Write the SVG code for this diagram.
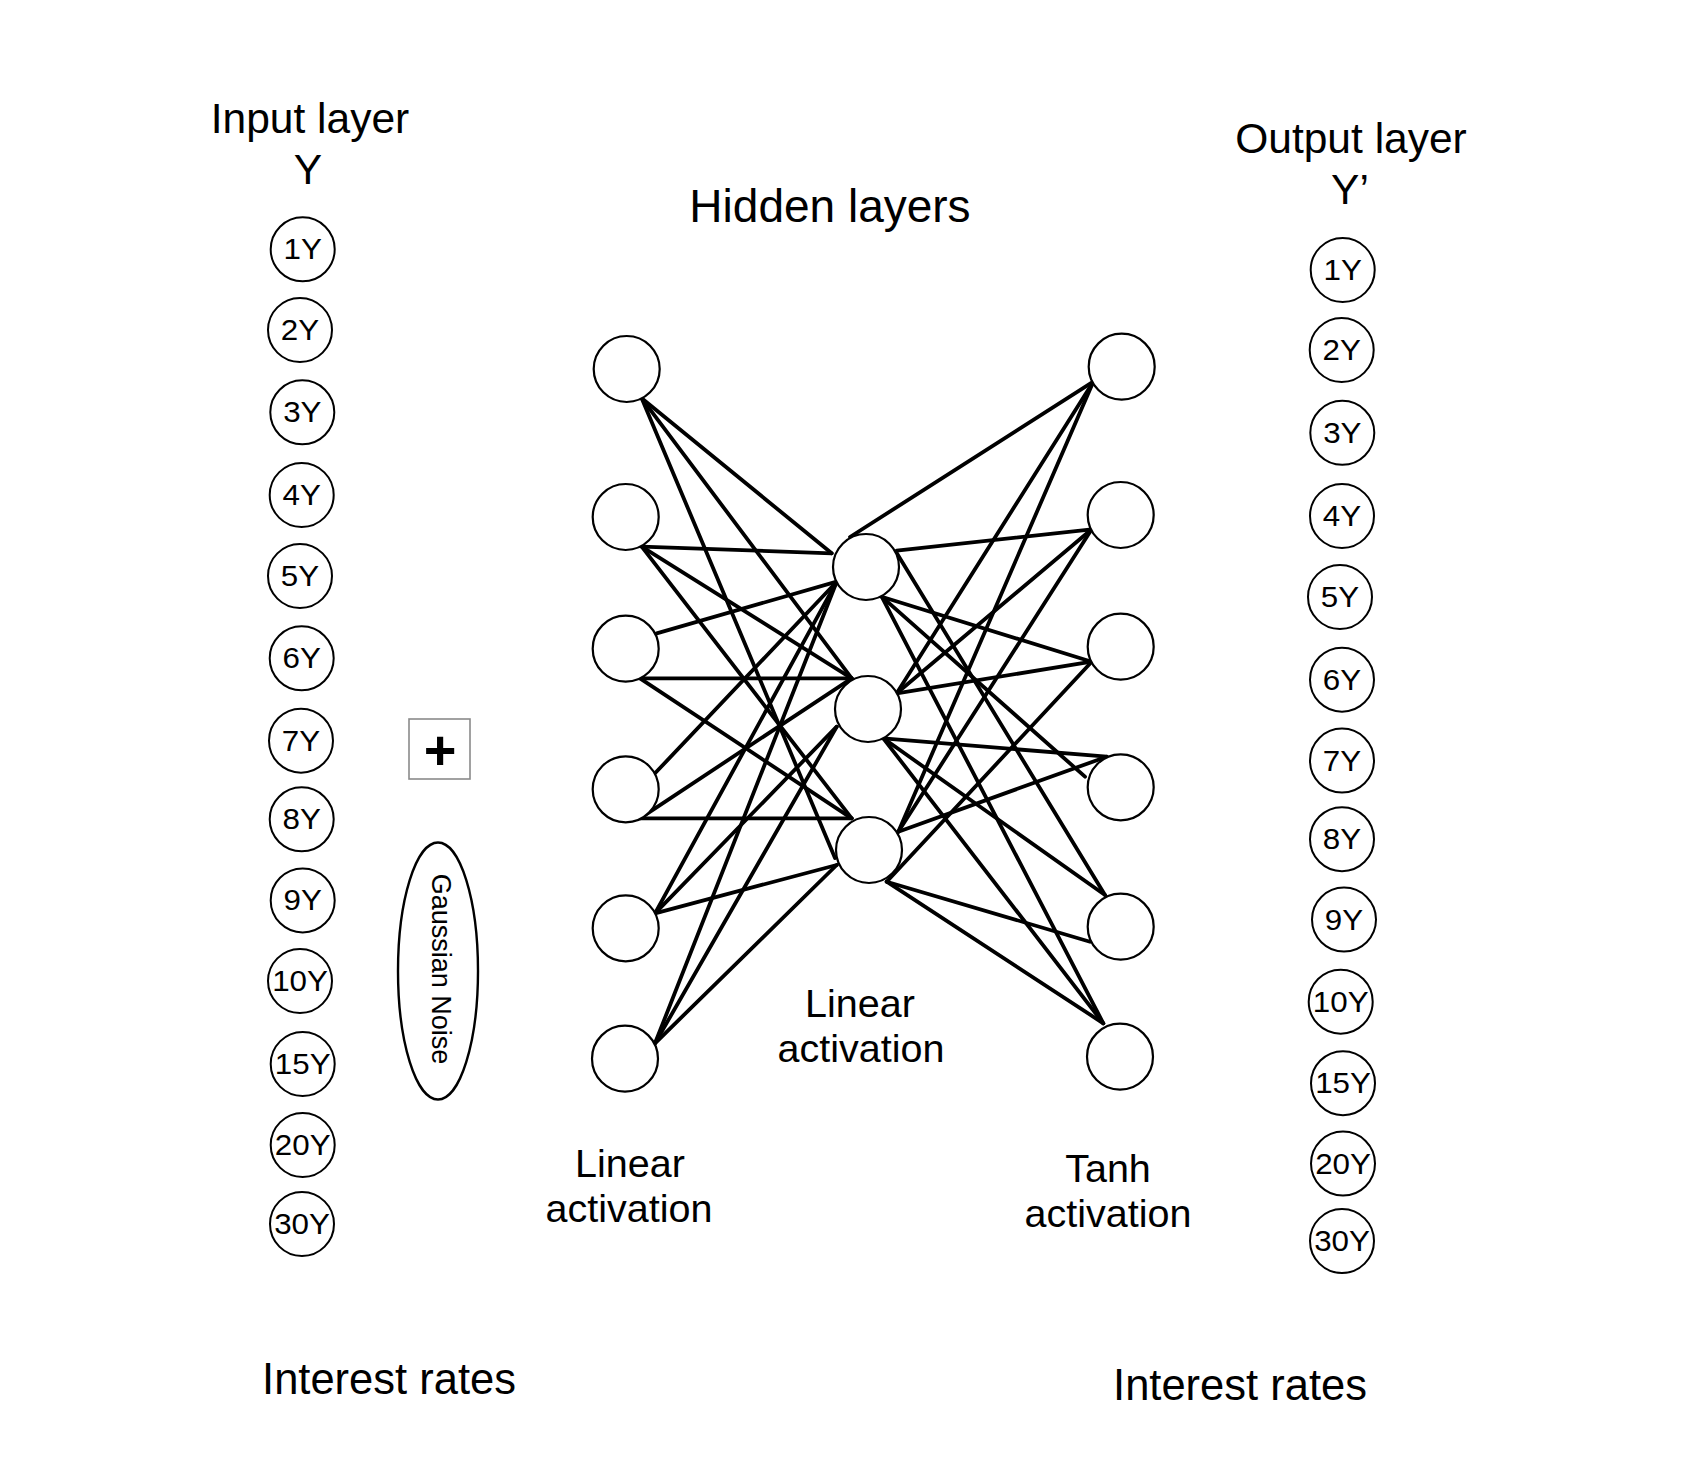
<svg xmlns="http://www.w3.org/2000/svg" width="1698" height="1480" viewBox="0 0 1698 1480">
<style>
text{font-family:"Liberation Sans",Arial,Helvetica,sans-serif;fill:#000}
.io circle{fill:#fff;stroke:#000;stroke-width:2}
.io text{font-size:29px;text-anchor:middle}
.hid circle{fill:#fff;stroke:#000;stroke-width:2.2}
.title{font-size:42.5px;text-anchor:middle}
.act{font-size:39.5px;text-anchor:middle}
#edges line{stroke:#000;stroke-width:3.8;stroke-linecap:round}
</style>
<rect width="1698" height="1480" fill="#fff"/>

<g id="labels">
<text class="title" x="310" y="133">Input layer</text>
<text class="title" x="308" y="184">Y</text>
<text class="title" x="1351" y="153">Output layer</text>
<text class="title" x="1350" y="204">Y’</text>
<text class="title" x="830" y="222" style="font-size:46px">Hidden layers</text>
<text class="act" x="630" y="1177">Linear</text>
<text class="act" x="629" y="1222">activation</text>
<text class="act" x="860" y="1017">Linear</text>
<text class="act" x="861" y="1062">activation</text>
<text class="act" x="1108" y="1182">Tanh</text>
<text class="act" x="1108" y="1227">activation</text>
<text class="title" x="389" y="1394" style="font-size:43.5px">Interest rates</text>
<text class="title" x="1240" y="1400" style="font-size:43.5px">Interest rates</text>
</g>

<g id="edges">
<line x1="641.7" y1="398.3" x2="831.7" y2="553.3"/>
<line x1="641.7" y1="398.3" x2="851.7" y2="678.3"/>
<line x1="641.7" y1="398.3" x2="835" y2="858"/>
<line x1="641.7" y1="546.7" x2="831.7" y2="553.3"/>
<line x1="641.7" y1="546.7" x2="851.7" y2="678.3"/>
<line x1="641.7" y1="546.7" x2="851.7" y2="818.3"/>
<line x1="656.7" y1="633.3" x2="836.7" y2="581.7"/>
<line x1="640" y1="678.3" x2="851.7" y2="678.3"/>
<line x1="640" y1="678.3" x2="851.7" y2="818.3"/>
<line x1="655" y1="773.3" x2="836.7" y2="581.7"/>
<line x1="640" y1="818.3" x2="851.7" y2="678.3"/>
<line x1="640" y1="818.3" x2="851.7" y2="818.3"/>
<line x1="655" y1="913.3" x2="836.7" y2="581.7"/>
<line x1="655" y1="913.3" x2="836.7" y2="726.7"/>
<line x1="655" y1="913.3" x2="836.7" y2="865"/>
<line x1="655" y1="1043.3" x2="836.7" y2="581.7"/>
<line x1="655" y1="1043.3" x2="836.7" y2="726.7"/>
<line x1="655" y1="1043.3" x2="836.7" y2="865"/>

<line x1="850" y1="537" x2="1093.3" y2="381.7"/>
<line x1="896.7" y1="550.7" x2="1091.7" y2="529.3"/>
<line x1="881.7" y1="596.7" x2="1091.7" y2="661.7"/>
<line x1="881.7" y1="596.7" x2="1085" y2="776.7"/>
<line x1="896.7" y1="553" x2="1105" y2="895"/>
<line x1="881.7" y1="596.7" x2="1103.3" y2="1023.3"/>
<line x1="896.7" y1="693.3" x2="1093.3" y2="381.7"/>
<line x1="896.7" y1="693.3" x2="1091.7" y2="529.3"/>
<line x1="896.7" y1="693.3" x2="1091.7" y2="661.7"/>
<line x1="883.3" y1="738.3" x2="1106.7" y2="756.7"/>
<line x1="883.3" y1="738.3" x2="1105" y2="895"/>
<line x1="883.3" y1="738.3" x2="1103.3" y2="1023.3"/>
<line x1="898.3" y1="831.7" x2="1093.3" y2="381.7"/>
<line x1="898.3" y1="831.7" x2="1091.7" y2="529.3"/>
<line x1="886.7" y1="881.7" x2="1091.7" y2="661.7"/>
<line x1="898.3" y1="831.7" x2="1106.7" y2="756.7"/>
<line x1="886.7" y1="881.7" x2="1090" y2="941.7"/>
<line x1="886.7" y1="881.7" x2="1103.3" y2="1023.3"/>
</g>

<g id="hidden-layer-1" class="hid">
<g id="h1-1"><circle cx="626.7" cy="369" r="33"/></g>
<g id="h1-2"><circle cx="625.7" cy="517" r="33"/></g>
<g id="h1-3"><circle cx="625.7" cy="648.7" r="33"/></g>
<g id="h1-4"><circle cx="625.7" cy="789.3" r="33"/></g>
<g id="h1-5"><circle cx="625.7" cy="928.3" r="33"/></g>
<g id="h1-6"><circle cx="625" cy="1058.7" r="33"/></g>
</g>
<g id="hidden-layer-2" class="hid">
<g id="h2-1"><circle cx="866" cy="567" r="33"/></g>
<g id="h2-2"><circle cx="868" cy="709" r="33"/></g>
<g id="h2-3"><circle cx="869" cy="850" r="33"/></g>
</g>
<g id="hidden-layer-3" class="hid">
<g id="h3-1"><circle cx="1121.7" cy="366.7" r="33"/></g>
<g id="h3-2"><circle cx="1120.7" cy="515" r="33"/></g>
<g id="h3-3"><circle cx="1120.7" cy="646.7" r="33"/></g>
<g id="h3-4"><circle cx="1120.7" cy="787.3" r="33"/></g>
<g id="h3-5"><circle cx="1120.7" cy="926.7" r="33"/></g>
<g id="h3-6"><circle cx="1120" cy="1056.7" r="33"/></g>
</g>

<g id="input-layer" class="io">
<g id="in-1Y"><circle cx="302.7" cy="249.3" r="32"/><text transform="translate(302.7,259.3) scale(1.08,1)">1Y</text></g>
<g id="in-2Y"><circle cx="300" cy="330" r="32"/><text transform="translate(300,340) scale(1.08,1)">2Y</text></g>
<g id="in-3Y"><circle cx="302.3" cy="412.3" r="32"/><text transform="translate(302.3,422.3) scale(1.08,1)">3Y</text></g>
<g id="in-4Y"><circle cx="301.7" cy="495" r="32"/><text transform="translate(301.7,505) scale(1.08,1)">4Y</text></g>
<g id="in-5Y"><circle cx="300" cy="576" r="32"/><text transform="translate(300,586) scale(1.08,1)">5Y</text></g>
<g id="in-6Y"><circle cx="301.7" cy="658.3" r="32"/><text transform="translate(301.7,668.3) scale(1.08,1)">6Y</text></g>
<g id="in-7Y"><circle cx="301" cy="740.7" r="32"/><text transform="translate(301,750.7) scale(1.08,1)">7Y</text></g>
<g id="in-8Y"><circle cx="301.7" cy="819.3" r="32"/><text transform="translate(301.7,829.3) scale(1.08,1)">8Y</text></g>
<g id="in-9Y"><circle cx="302.7" cy="900.4" r="32"/><text transform="translate(302.7,910.4) scale(1.08,1)">9Y</text></g>
<g id="in-10Y"><circle cx="300" cy="981" r="32"/><text transform="translate(300,991) scale(1.08,1)">10Y</text></g>
<g id="in-15Y"><circle cx="302.7" cy="1064" r="32"/><text transform="translate(302.7,1074) scale(1.08,1)">15Y</text></g>
<g id="in-20Y"><circle cx="302.7" cy="1145" r="32"/><text transform="translate(302.7,1155) scale(1.08,1)">20Y</text></g>
<g id="in-30Y"><circle cx="302" cy="1224" r="32"/><text transform="translate(302,1234) scale(1.08,1)">30Y</text></g>
</g>

<g id="output-layer" class="io">
<g id="out-1Y"><circle cx="1342.7" cy="270" r="32"/><text transform="translate(1342.7,280) scale(1.08,1)">1Y</text></g>
<g id="out-2Y"><circle cx="1341.7" cy="350" r="32"/><text transform="translate(1341.7,360) scale(1.08,1)">2Y</text></g>
<g id="out-3Y"><circle cx="1342.3" cy="432.8" r="32"/><text transform="translate(1342.3,442.8) scale(1.08,1)">3Y</text></g>
<g id="out-4Y"><circle cx="1342" cy="516" r="32"/><text transform="translate(1342,526) scale(1.08,1)">4Y</text></g>
<g id="out-5Y"><circle cx="1340" cy="597" r="32"/><text transform="translate(1340,607) scale(1.08,1)">5Y</text></g>
<g id="out-6Y"><circle cx="1342" cy="679.7" r="32"/><text transform="translate(1342,689.7) scale(1.08,1)">6Y</text></g>
<g id="out-7Y"><circle cx="1342" cy="760.6" r="32"/><text transform="translate(1342,770.6) scale(1.08,1)">7Y</text></g>
<g id="out-8Y"><circle cx="1342" cy="839.2" r="32"/><text transform="translate(1342,849.2) scale(1.08,1)">8Y</text></g>
<g id="out-9Y"><circle cx="1344" cy="919.6" r="32"/><text transform="translate(1344,929.6) scale(1.08,1)">9Y</text></g>
<g id="out-10Y"><circle cx="1340.7" cy="1001.7" r="32"/><text transform="translate(1340.7,1011.7) scale(1.08,1)">10Y</text></g>
<g id="out-15Y"><circle cx="1343" cy="1083.2" r="32"/><text transform="translate(1343,1093.2) scale(1.08,1)">15Y</text></g>
<g id="out-20Y"><circle cx="1343" cy="1163.6" r="32"/><text transform="translate(1343,1173.6) scale(1.08,1)">20Y</text></g>
<g id="out-30Y"><circle cx="1342" cy="1241" r="32"/><text transform="translate(1342,1251) scale(1.08,1)">30Y</text></g>
</g>

<g id="plus-box">
<rect x="409" y="719" width="61" height="60" fill="#fff" stroke="#8a8a8a" stroke-width="1.6"/>
<text x="440" y="769" style="font-size:56px;font-weight:bold;text-anchor:middle">+</text>
</g>

<g id="gaussian-noise">
<ellipse cx="438" cy="971" rx="40" ry="128.5" fill="#fff" stroke="#000" stroke-width="2.4"/>
<text transform="translate(441.5,969) rotate(90)" x="0" y="9.5" style="font-size:27px;text-anchor:middle">Gaussian Noise</text>
</g>
</svg>
